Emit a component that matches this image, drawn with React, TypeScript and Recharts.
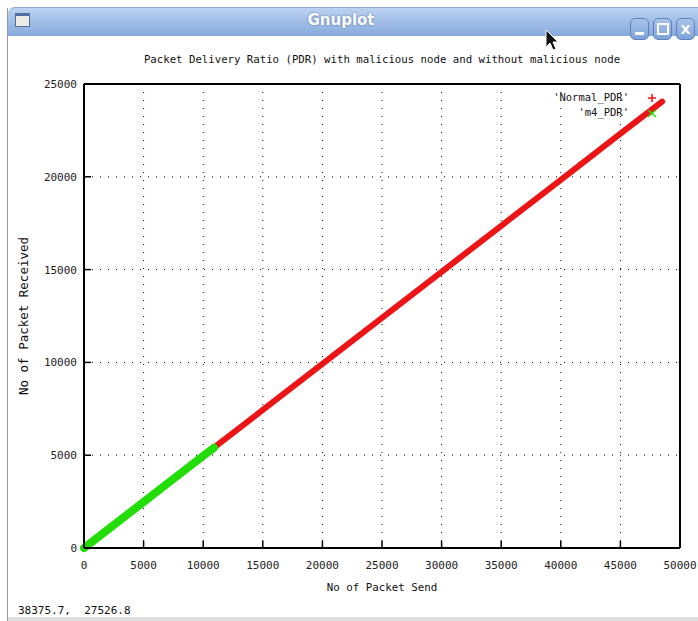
import React from "react";
import {
  LineChart,
  Line,
  XAxis,
  YAxis,
  CartesianGrid,
} from "recharts";

// values
const normalSend = [0, 5000, 10000, 15000, 20000, 25000, 30000, 35000, 40000, 45000, 48500];
const normalReceived = [0, 2480, 4960, 7440, 9920, 12400, 14880, 17360, 19840, 22320, 24050];
const m4Send = [0, 2500, 5000, 7500, 10000, 10900];
const m4Received = [0, 1240, 2480, 3720, 4960, 5400];

const xTicks = [0, 5000, 10000, 15000, 20000, 25000, 30000, 35000, 40000, 45000, 50000];
const yTicks = [0, 5000, 10000, 15000, 20000, 25000];

const title = "Packet Delivery Ratio (PDR) with malicious node and without malicious node";
const xLabel = "No of Packet Send";
const yLabel = "No of Packet Received";
const statusText = "38375.7,  27526.8";

const normalData = normalSend.map((x, i) => ({ x, y: normalReceived[i] }));
const m4Data = m4Send.map((x, i) => ({ x, y: m4Received[i] }));

const mono = "'DejaVu Sans Mono', monospace";
const emptyTick = () => <g />;

function TitleBar() {
  const btn = (left: number, glyph: React.ReactNode) => (
    <div
      style={{
        position: "absolute",
        left,
        top: 10,
        width: 19,
        height: 22,
        borderRadius: 5,
        border: "1px solid #5f84bb",
        background: "linear-gradient(#a9c3ea, #7fa3d8)",
        boxSizing: "border-box",
        color: "#fff",
        display: "flex",
        alignItems: "center",
        justifyContent: "center",
        fontFamily: "'DejaVu Sans', sans-serif",
        fontWeight: 700,
        fontSize: 13,
      }}
    >
      {glyph}
    </div>
  );
  return (
    <div
      style={{
        position: "absolute",
        left: 8,
        top: 7,
        width: 700,
        height: 29,
        borderTopLeftRadius: 7,
        background: "linear-gradient(#bcd2f1, #86a9dc)",
        borderTop: "1px solid #8fa9cf",
        boxSizing: "border-box",
      }}
    >
      <div
        style={{
          position: "absolute",
          left: 7,
          top: 5,
          width: 15,
          height: 14,
          background: "#ecebe4",
          borderTop: "3px solid #4f6f9f",
          border: "1px solid #4f6f9f",
          borderTopWidth: 3,
          boxSizing: "border-box",
        }}
      />
      <div
        style={{
          position: "absolute",
          left: 0,
          width: 666,
          top: 3,
          textAlign: "center",
          color: "#fff",
          fontFamily: "'DejaVu Sans', sans-serif",
          fontWeight: 700,
          fontSize: 15,
          textShadow: "0 0 2px #4a6a9a",
        }}
      >
        Gnuplot
      </div>
      {btn(622, <div style={{ width: 9, height: 3, background: "#fff", marginTop: 8 }} />)}
      {btn(645, <div style={{ width: 8, height: 8, border: "2px solid #fff" }} />)}
      {btn(668, "X")}
    </div>
  );
}

export default function App() {
  return (
    <div
      style={{
        position: "absolute",
        left: 0,
        top: 0,
        width: 698,
        height: 621,
        background: "#fff",
        overflow: "hidden",
      }}
    >
      <div style={{ position: "absolute", left: 7, top: 8, width: 1, height: 613, background: "#9a9a9a" }} />
      <div style={{ position: "absolute", left: 8, top: 617, width: 690, height: 4, background: "#dedede" }} />
      <TitleBar />

      <div
        style={{
          position: "absolute",
          left: 0,
          top: 0,
          width: 698,
          height: 621,
        }}
      >
        <LineChart
          width={698}
          height={621}
          margin={{ top: 0, right: 0, bottom: 0, left: 0 }}
        >
          <CartesianGrid stroke="#000" strokeDasharray="1 7" />
          <XAxis
            xAxisId={0}
            dataKey="x"
            type="number"
            domain={[0, 50000]}
            ticks={xTicks}
            interval={0}
            height={73}
            axisLine={{ stroke: "#000", strokeWidth: 2 }}
            tickLine={{ stroke: "#000", strokeWidth: 1.5 }}
            tickSize={-7}
            tickMargin={20}
            tick={{ fill: "#222", fontFamily: mono, fontSize: 11 }}
          />
          <XAxis
            xAxisId="top"
            orientation="top"
            type="number"
            domain={[0, 50000]}
            ticks={xTicks}
            interval={0}
            height={84}
            axisLine={{ stroke: "#000", strokeWidth: 2 }}
            tickLine={{ stroke: "#000", strokeWidth: 1.5 }}
            tickSize={-7}
            tick={emptyTick}
          />
          <YAxis
            yAxisId={0}
            type="number"
            domain={[0, 25000]}
            ticks={yTicks}
            interval={0}
            width={84}
            axisLine={{ stroke: "#000", strokeWidth: 2 }}
            tickLine={{ stroke: "#000", strokeWidth: 1.5 }}
            tickSize={-7}
            tickMargin={14}
            tick={{ fill: "#222", fontFamily: mono, fontSize: 11 }}
          />
          <YAxis
            yAxisId="right"
            orientation="right"
            type="number"
            domain={[0, 25000]}
            ticks={yTicks}
            interval={0}
            width={18}
            axisLine={{ stroke: "#000", strokeWidth: 2 }}
            tickLine={{ stroke: "#000", strokeWidth: 1.5 }}
            tickSize={-7}
            tick={emptyTick}
          />
          <Line
            data={normalData}
            dataKey="y"
            xAxisId={0}
            yAxisId={0}
            stroke="#ec1414"
            strokeWidth={6}
            strokeLinecap="round"
            dot={false}
            isAnimationActive={false}
          />
          <Line
            data={m4Data}
            dataKey="y"
            xAxisId={0}
            yAxisId={0}
            stroke="#22dd08"
            strokeWidth={8}
            strokeLinecap="round"
            dot={false}
            isAnimationActive={false}
          />
        </LineChart>
      </div>

      {/* title, axis labels, key and status line */}
      <div
        style={{
          position: "absolute",
          left: 84,
          width: 596,
          top: 53,
          textAlign: "center",
          fontFamily: mono,
          fontSize: 10.7,
          color: "#111",
        }}
      >
        {title}
      </div>
      <div
        style={{
          position: "absolute",
          left: 84,
          width: 596,
          top: 581,
          textAlign: "center",
          fontFamily: mono,
          fontSize: 10.8,
          color: "#111",
        }}
      >
        {xLabel}
      </div>
      <div
        style={{
          position: "absolute",
          left: 23,
          top: 316,
          transform: "translate(-50%, -50%) rotate(-90deg)",
          whiteSpace: "nowrap",
          fontFamily: mono,
          fontSize: 12.5,
          color: "#111",
        }}
      >
        {yLabel}
      </div>
      <div
        style={{
          position: "absolute",
          right: 698 - 629,
          top: 90,
          textAlign: "right",
          fontFamily: mono,
          fontSize: 10.5,
          lineHeight: "15px",
          color: "#111",
          whiteSpace: "pre",
        }}
      >
        {"'Normal_PDR'\n'm4_PDR'"}
      </div>
      <svg
        style={{ position: "absolute", left: 0, top: 0 }}
        width={698}
        height={621}
      >
        <path d="M648 98 H656 M652 94 V102" stroke="#ec1414" strokeWidth={1.5} />
        <path d="M648 110 L656 117 M656 110 L648 117" stroke="#22dd08" strokeWidth={1.5} />
        <path
          d="M546 30 L546 47 L550 43 L553 50 L556 49 L553 42 L558 42 Z"
          fill="#111"
          stroke="#fff"
          strokeWidth={1}
        />
      </svg>
      <div
        style={{
          position: "absolute",
          left: 18,
          top: 604,
          fontFamily: mono,
          fontSize: 11,
          color: "#111",
          whiteSpace: "pre",
        }}
      >
        {statusText}
      </div>
    </div>
  );
}
